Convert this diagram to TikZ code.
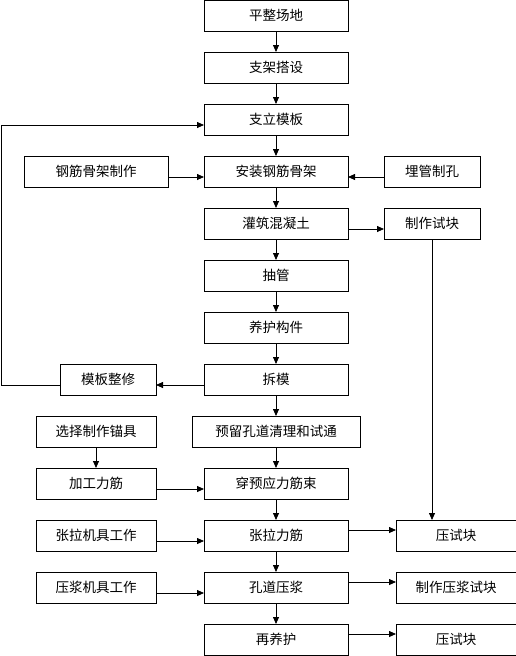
\documentclass[tikz,border=0pt]{standalone}
\usepackage{fontspec}
\newfontfamily\cjk{Noto Sans CJK SC}
\usepackage{tikz}
\usetikzlibrary{arrows.meta, positioning}

\begin{document}
\begin{tikzpicture}[
    x=1pt, y=1pt,
    node distance=21pt and 36pt,
    every node/.style={draw, line width=0.8pt, outer sep=0pt, minimum width=144pt, minimum height=31pt, inner sep=0pt, font=\cjk\fontsize{13.5}{15}\selectfont},
    arrow/.style={-{Triangle[length=7pt, width=6pt]}, line width=0.8pt}
]
\useasboundingbox (0,0) rectangle (516,-656);

% Nodes
\node (pz) at (276,-15.5) {平整场地};
\node (zj) [below=of pz] {支架搭设};
\node (zl) [below=of zj] {支立模板};
\node (az) [below=of zl] {安装钢筋骨架};
\node (gz) [below=of az] {灌筑混凝土};
\node (cg) [below=of gz] {抽管};
\node (yh) [below=of cg] {养护构件};
\node (cm) [below=of yh] {拆模};
\node (yl) [below=of cm, minimum width=168pt] {预留孔道清理和试通};
\node (cy) [below=of yl] {穿预应力筋束};
\node (zlj) [below=of cy] {张拉力筋};
\node (kd) [below=of zlj] {孔道压浆};
\node (zy) [below=of kd] {再养护};

\node (gj) [left=of az] {钢筋骨架制作};
\node (mg) [right=of az, minimum width=96pt] {埋管制孔};
\node (sk) [right=of gz, minimum width=96pt] {制作试块};
\node (mx) [left=48pt of cm, minimum width=96pt] {模板整修};
\node (mj) [left=of yl, minimum width=120pt] {选择制作锚具};
\node (jg) [left=48pt of cy, minimum width=120pt] {加工力筋};
\node (zjj) [left=48pt of zlj, minimum width=120pt] {张拉机具工作};
\node (yj) [left=48pt of kd, minimum width=120pt] {压浆机具工作};
\node (ys1) [right=48pt of zlj, minimum width=120pt] {压试块};
\node (ys2) [right=48pt of kd, minimum width=120pt] {制作压浆试块};
\node (ys3) [right=48pt of zy, minimum width=120pt] {压试块};

% Arrows
\draw[arrow] (pz) -- (zj);
\draw[arrow] (zj) -- (zl);
\draw[arrow] (zl) -- (az);
\draw[arrow] (az) -- (gz);
\draw[arrow] (gz) -- (cg);
\draw[arrow] (cg) -- (yh);
\draw[arrow] (yh) -- (cm);
\draw[arrow] (cm) -- (yl);
\draw[arrow] (yl) -- (cy);
\draw[arrow] (cy) -- (zlj);
\draw[arrow] (zlj) -- (kd);
\draw[arrow] (kd) -- (zy);

\draw[arrow] ([yshift=-5.5pt]gj.east) -- ([yshift=-5.5pt]az.west);
\draw[arrow] ([yshift=-5.5pt]mg.west) -- ([yshift=-5.5pt]az.east);
\draw[arrow] ([yshift=-5.5pt]gz.east) -- ([yshift=-5.5pt]sk.west);
\draw[arrow] (sk.south) -- (sk.south |- ys1.north);
\draw[arrow] ([yshift=-5.5pt]cm.west) -- ([yshift=-5.5pt]mx.east);
\draw[arrow] ([yshift=-5.5pt]mx.west) -- ++(-58.5,0) |- ([yshift=-5.5pt]zl.west);
\draw[arrow] (mj) -- (jg);
\draw[arrow] ([yshift=-5.5pt]jg.east) -- ([yshift=-5.5pt]cy.west);
\draw[arrow] ([yshift=-5.5pt]zjj.east) -- ([yshift=-5.5pt]zlj.west);
\draw[arrow] ([yshift=-5.5pt]yj.east) -- ([yshift=-5.5pt]kd.west);
\draw[arrow] ([yshift=5.5pt]zlj.east) -- ([yshift=5.5pt]ys1.west);
\draw[arrow] ([yshift=5.5pt]kd.east) -- ([yshift=5.5pt]ys2.west);
\draw[arrow] ([yshift=5.5pt]zy.east) -- ([yshift=5.5pt]ys3.west);

\end{tikzpicture}
\end{document}
